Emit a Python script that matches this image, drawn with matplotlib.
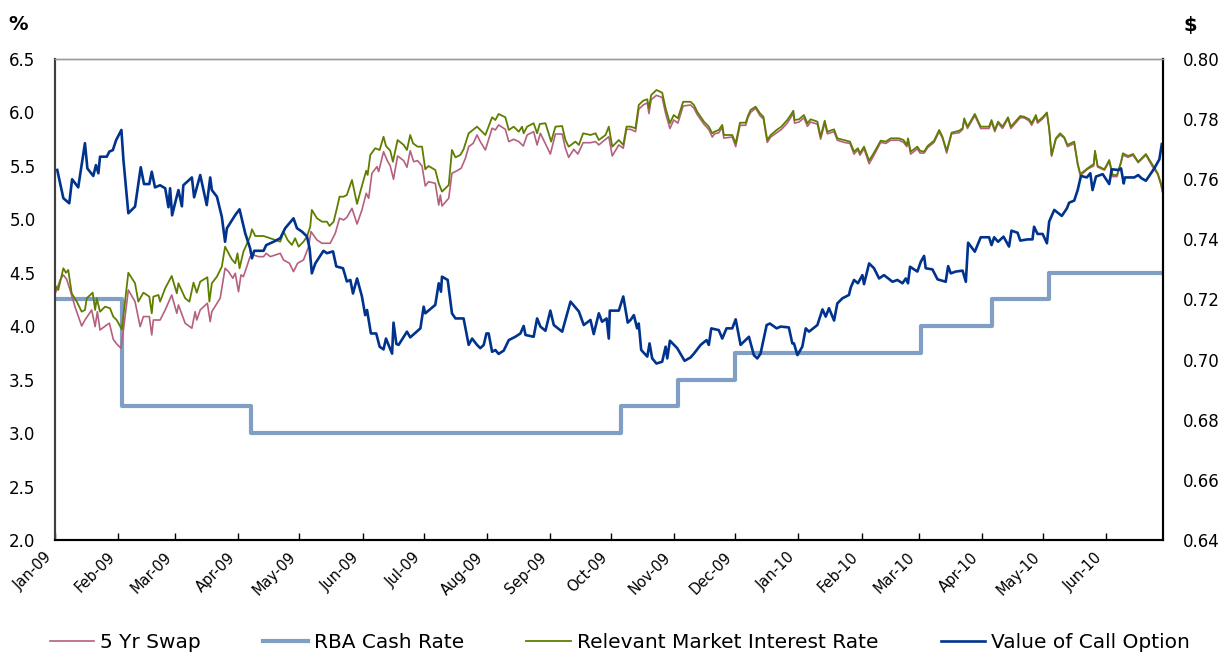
import matplotlib
matplotlib.use('Agg')
import matplotlib.pyplot as plt
import matplotlib.dates as mdates
from matplotlib.ticker import FormatStrFormatter
from matplotlib.transforms import ScaledTranslation
import numpy as np
import pandas as pd

# day offsets are counted from 1 Jan 2009
start = pd.Timestamp('2009-01-01')

# RBA cash rate: decision dates and new rate (%)
rba_dates = ['2009-01-01', '2009-02-03', '2009-04-07', '2009-10-06', '2009-11-03',
             '2009-12-01', '2010-03-02', '2010-04-06', '2010-05-04', '2010-06-29']
rba_vals = [4.25, 3.25, 3.00, 3.25, 3.50, 3.75, 4.00, 4.25, 4.50, 4.50]

# 5 Yr Swap (%), (day, value)
swap = [
    (0.5, 4.323), (2.5, 4.433), (4.1, 4.48), (5.7, 4.44), (7.4, 4.339), (9.8, 4.183), (13.1, 4.002), (14.7, 4.058), (18.0, 4.152), (19.7, 3.996),
    (20.8, 4.136), (22.1, 3.965), (25.4, 4.012), (26.7, 4.028), (28.6, 3.878), (30.3, 3.834), (32.4, 3.794), (33.9, 4.012), (36.0, 4.339), (39.3, 4.23),
    (41.8, 3.996), (43.4, 4.09), (46.3, 4.09), (47.5, 3.918), (48.3, 4.058), (51.6, 4.058), (54.1, 4.152), (57.3, 4.292), (59.8, 4.121), (60.6, 4.199),
    (63.9, 4.028), (67.2, 3.981), (68.8, 4.136), (69.6, 4.058), (71.3, 4.152), (74.8, 4.215), (76.2, 4.043), (77.0, 4.136), (81.1, 4.262), (83.5, 4.542),
    (85.2, 4.511), (87.3, 4.449), (88.5, 4.495), (90.1, 4.323), (91.3, 4.48), (92.5, 4.464), (95.8, 4.651), (97.4, 4.667), (99.9, 4.651), (102.4, 4.651),
    (103.7, 4.682), (105.7, 4.651), (110.6, 4.682), (112.2, 4.62), (115.1, 4.589), (117.1, 4.511), (119.1, 4.589), (122.0, 4.62), (124.5, 4.744), (125.7, 4.885),
    (128.6, 4.807), (131.1, 4.776), (135.1, 4.776), (137.6, 4.869), (139.7, 5.01), (141.7, 4.994), (143.3, 5.019), (145.8, 5.103), (148.3, 4.956), (150.7, 5.088),
    (152.8, 5.244), (154.0, 5.197), (155.6, 5.431), (158.1, 5.493), (158.9, 5.446), (161.3, 5.633), (163.0, 5.555), (164.6, 5.499), (166.2, 5.375), (168.2, 5.593),
    (171.2, 5.549), (172.8, 5.487), (174.4, 5.642), (176.1, 5.539), (178.0, 5.549), (180.2, 5.499), (181.8, 5.312), (183.4, 5.352), (186.7, 5.337), (188.4, 5.134),
    (189.2, 5.228), (190.0, 5.125), (193.3, 5.197), (194.9, 5.431), (197.4, 5.455), (199.4, 5.478), (201.5, 5.571), (203.1, 5.68), (205.3, 5.711), (207.2, 5.789),
    (208.8, 5.727), (211.3, 5.649), (214.6, 5.852), (216.2, 5.836), (217.8, 5.883), (221.1, 5.842), (222.8, 5.727), (225.2, 5.749), (227.7, 5.727), (229.9, 5.686),
    (231.8, 5.789), (235.0, 5.82), (236.7, 5.696), (238.3, 5.805), (243.2, 5.611), (245.7, 5.798), (249.0, 5.798), (250.6, 5.665), (252.2, 5.58), (254.7, 5.655),
    (256.7, 5.611), (259.3, 5.717), (262.9, 5.717), (265.4, 5.727), (267.0, 5.696), (270.3, 5.749), (271.9, 5.773), (273.6, 5.593), (276.8, 5.696), (279.0, 5.665),
    (280.6, 5.842), (282.6, 5.842), (285.0, 5.82), (286.6, 6.03), (288.8, 6.07), (290.8, 6.09), (291.6, 5.99), (292.7, 6.12), (295.3, 6.16), (298.1, 6.14),
    (299.8, 5.99), (301.9, 5.85), (303.8, 5.93), (305.8, 5.90), (308.4, 6.06), (312.0, 6.07), (313.7, 6.04), (315.3, 5.98), (318.6, 5.89), (321.0, 5.84),
    (322.7, 5.77), (323.8, 5.80), (325.9, 5.81), (327.6, 5.86), (328.4, 5.76), (332.5, 5.77), (334.2, 5.68), (336.3, 5.88), (339.1, 5.88), (340.2, 5.95),
    (341.5, 6.00), (344.0, 6.04), (346.1, 5.97), (347.8, 5.94), (349.7, 5.72), (351.4, 5.77), (354.3, 5.81), (356.6, 5.84), (359.5, 5.90), (361.2, 5.95),
    (362.5, 5.99), (363.1, 5.90), (365.3, 5.91), (367.7, 5.95), (369.4, 5.87), (371.0, 5.91), (374.3, 5.89), (375.9, 5.75), (377.9, 5.90), (379.2, 5.80),
    (382.5, 5.82), (384.1, 5.74), (387.4, 5.72), (390.3, 5.71), (392.3, 5.61), (394.2, 5.65), (395.2, 5.60), (397.2, 5.66), (399.7, 5.52), (402.1, 5.60),
    (405.4, 5.72), (407.9, 5.71), (410.3, 5.74), (414.4, 5.74), (416.6, 5.72), (418.2, 5.68), (418.8, 5.74), (420.1, 5.61), (423.4, 5.66), (424.7, 5.62),
    (426.7, 5.62), (428.4, 5.67), (431.6, 5.72), (434.1, 5.82), (435.7, 5.76), (437.8, 5.62), (440.2, 5.80), (443.9, 5.81), (445.6, 5.84), (446.4, 5.93),
    (448.0, 5.85), (451.6, 5.97), (454.5, 5.85), (458.6, 5.85), (459.8, 5.91), (461.4, 5.82), (463.0, 5.90), (465.2, 5.85), (467.9, 5.94), (469.3, 5.85),
    (473.9, 5.95), (475.8, 5.95), (478.3, 5.92), (479.5, 5.88), (481.6, 5.96), (482.4, 5.90), (484.9, 5.94), (487.0, 5.99), (488.1, 5.84), (489.3, 5.59),
    (491.4, 5.75), (493.5, 5.79), (495.5, 5.76), (497.1, 5.68), (500.4, 5.71), (502.1, 5.51), (503.4, 5.41), (507.0, 5.47), (510.0, 5.50), (510.6, 5.63),
    (511.9, 5.49), (515.2, 5.46), (517.6, 5.54), (519.3, 5.40), (521.4, 5.40), (523.4, 5.53), (524.3, 5.60), (526.8, 5.58), (529.3, 5.60), (531.8, 5.53),
    (535.6, 5.60), (538.9, 5.49), (541.4, 5.42), (543.0, 5.32), (544.3, 5.21),
]

# Relevant Market Interest Rate (%), (day, value)
market = [
    (0.5, 4.37), (1.6, 4.339), (4.1, 4.542), (5.4, 4.50), (6.5, 4.526), (8.2, 4.308), (10.7, 4.23), (13.1, 4.136), (14.7, 4.152), (15.6, 4.262),
    (18.5, 4.314), (19.7, 4.152), (20.5, 4.262), (22.1, 4.136), (24.6, 4.183), (27.0, 4.168), (28.6, 4.09), (30.3, 4.058), (32.8, 3.971), (33.9, 4.152),
    (36.0, 4.50), (39.3, 4.402), (40.9, 4.23), (43.4, 4.314), (46.3, 4.277), (47.5, 4.121), (48.3, 4.277), (50.8, 4.292), (51.6, 4.23), (54.1, 4.355),
    (57.3, 4.47), (59.8, 4.308), (60.6, 4.402), (63.9, 4.262), (66.0, 4.23), (68.0, 4.408), (69.6, 4.314), (71.3, 4.417), (74.8, 4.458), (75.8, 4.23),
    (77.0, 4.402), (79.5, 4.464), (81.9, 4.557), (83.5, 4.744), (86.8, 4.626), (88.5, 4.589), (89.6, 4.682), (90.6, 4.542), (92.5, 4.698), (95.8, 4.838),
    (96.7, 4.907), (98.3, 4.844), (102.4, 4.844), (105.7, 4.823), (110.6, 4.791), (112.2, 4.885), (114.2, 4.807), (116.3, 4.76), (117.9, 4.823), (119.6, 4.744),
    (122.0, 4.791), (123.7, 4.838), (125.3, 4.931), (126.1, 5.088), (128.6, 5.01), (131.1, 4.978), (133.5, 4.978), (134.8, 4.938), (136.8, 4.978), (138.4, 5.103),
    (139.7, 5.212), (141.7, 5.212), (143.3, 5.228), (145.8, 5.368), (148.3, 5.144), (149.9, 5.259), (152.8, 5.455), (153.5, 5.415), (154.8, 5.602), (157.2, 5.665),
    (159.4, 5.649), (161.3, 5.773), (162.5, 5.686), (164.6, 5.642), (165.9, 5.539), (168.2, 5.742), (171.2, 5.696), (172.8, 5.649), (174.4, 5.789), (175.8, 5.711),
    (178.0, 5.68), (180.2, 5.68), (181.8, 5.468), (183.4, 5.499), (186.7, 5.462), (188.4, 5.337), (190.0, 5.259), (193.3, 5.321), (194.9, 5.649), (196.6, 5.58),
    (199.0, 5.602), (200.6, 5.655), (203.1, 5.805), (207.2, 5.867), (209.7, 5.82), (211.3, 5.789), (214.6, 5.955), (216.2, 5.929), (217.8, 5.986), (221.1, 5.955),
    (222.8, 5.836), (225.2, 5.867), (227.7, 5.82), (229.3, 5.867), (230.1, 5.805), (231.8, 5.867), (235.0, 5.899), (236.7, 5.805), (238.0, 5.892), (240.8, 5.899),
    (243.6, 5.727), (245.7, 5.867), (249.0, 5.873), (250.6, 5.742), (252.2, 5.68), (255.5, 5.727), (257.2, 5.696), (259.3, 5.805), (262.9, 5.789), (265.4, 5.805),
    (267.0, 5.742), (270.3, 5.789), (271.9, 5.867), (273.6, 5.68), (276.8, 5.742), (279.0, 5.696), (280.6, 5.867), (282.6, 5.867), (285.0, 5.852), (286.6, 6.07),
    (288.8, 6.11), (290.8, 6.123), (291.6, 6.039), (292.7, 6.163), (295.3, 6.21), (298.1, 6.185), (299.8, 6.039), (301.9, 5.899), (303.8, 5.976), (305.8, 5.945),
    (308.4, 6.10), (312.0, 6.10), (313.7, 6.07), (315.3, 6.007), (318.6, 5.914), (321.0, 5.867), (322.7, 5.805), (323.8, 5.82), (325.9, 5.836), (327.6, 5.883),
    (328.4, 5.789), (332.5, 5.789), (334.2, 5.711), (336.3, 5.904), (339.1, 5.904), (340.2, 5.967), (341.5, 6.023), (344.0, 6.054), (346.1, 5.992), (347.8, 5.96),
    (349.7, 5.742), (351.4, 5.789), (354.3, 5.836), (356.6, 5.867), (359.5, 5.929), (361.2, 5.976), (362.5, 6.016), (363.1, 5.929), (365.3, 5.936), (367.7, 5.976),
    (369.4, 5.899), (371.0, 5.936), (374.3, 5.914), (375.9, 5.773), (377.9, 5.923), (379.2, 5.82), (382.5, 5.842), (384.1, 5.758), (387.4, 5.742), (390.3, 5.727),
    (392.3, 5.633), (394.2, 5.665), (395.2, 5.618), (397.2, 5.68), (399.7, 5.549), (402.1, 5.624), (405.4, 5.736), (407.9, 5.727), (410.3, 5.758), (414.4, 5.758),
    (416.6, 5.742), (418.2, 5.696), (418.8, 5.758), (420.1, 5.633), (423.4, 5.68), (424.7, 5.642), (426.7, 5.633), (428.4, 5.686), (431.6, 5.736), (434.1, 5.836),
    (435.7, 5.773), (437.8, 5.642), (440.2, 5.811), (443.9, 5.829), (445.6, 5.852), (446.4, 5.945), (448.0, 5.867), (451.6, 5.986), (454.5, 5.867), (458.6, 5.867),
    (459.8, 5.929), (461.4, 5.836), (463.0, 5.914), (465.2, 5.867), (467.9, 5.955), (469.3, 5.867), (473.9, 5.967), (475.8, 5.96), (478.3, 5.936), (479.5, 5.899),
    (481.6, 5.976), (482.4, 5.914), (484.9, 5.955), (487.0, 6.0), (488.1, 5.852), (489.3, 5.602), (491.4, 5.758), (493.5, 5.805), (495.5, 5.768), (497.1, 5.696),
    (500.4, 5.727), (502.1, 5.524), (503.4, 5.424), (507.0, 5.478), (510.0, 5.518), (510.6, 5.642), (511.9, 5.499), (515.2, 5.468), (517.6, 5.555), (519.3, 5.415),
    (521.4, 5.415), (523.4, 5.539), (524.3, 5.618), (526.8, 5.593), (529.3, 5.611), (531.8, 5.539), (535.6, 5.611), (538.9, 5.508), (541.4, 5.431), (543.0, 5.337),
    (544.3, 5.218),
]

# Value of Call Option ($), (day, value)
call_option = [
    (1.1, 0.7631), (4.1, 0.7537), (7.0, 0.752), (8.4, 0.760), (11.4, 0.7573), (14.7, 0.772), (15.9, 0.7636), (18.8, 0.7611), (20.1, 0.7647), (21.3, 0.762),
    (22.1, 0.7675), (25.4, 0.7675), (26.7, 0.7692), (28.4, 0.7697), (30.0, 0.773), (32.6, 0.7764), (33.6, 0.7664), (36.0, 0.7487), (39.3, 0.7509), (42.1, 0.764),
    (43.7, 0.7584), (46.3, 0.7584), (47.5, 0.7625), (49.1, 0.7573), (51.6, 0.758), (54.1, 0.757), (55.7, 0.7507), (56.5, 0.757), (57.5, 0.748), (59.0, 0.7522),
    (60.6, 0.7564), (62.3, 0.751), (63.0, 0.758), (67.2, 0.7606), (68.3, 0.754), (71.3, 0.7614), (74.5, 0.7514), (76.2, 0.7606), (77.0, 0.7564), (79.5, 0.7542),
    (81.9, 0.7475), (83.5, 0.7392), (84.4, 0.7437), (88.5, 0.7481), (90.6, 0.75), (93.4, 0.742), (95.8, 0.737), (96.7, 0.7337), (97.8, 0.7362), (102.4, 0.7362),
    (103.7, 0.7381), (107.3, 0.7392), (110.6, 0.7404), (113.0, 0.7437), (117.1, 0.747), (118.8, 0.7437), (121.2, 0.7426), (123.7, 0.741), (125.0, 0.737), (126.1, 0.7287),
    (127.8, 0.732), (131.8, 0.7362), (133.5, 0.7354), (136.5, 0.736), (138.1, 0.731), (141.4, 0.7304), (143.3, 0.726), (145.0, 0.7265), (146.3, 0.722), (148.3, 0.727),
    (150.7, 0.721), (152.3, 0.7148), (153.2, 0.7165), (155.1, 0.7087), (157.7, 0.7087), (159.4, 0.7043), (161.3, 0.7034), (162.5, 0.707), (165.5, 0.702), (166.2, 0.7123),
    (167.6, 0.7052), (168.7, 0.7049), (172.8, 0.7093), (174.4, 0.7074), (179.4, 0.7104), (181.0, 0.7176), (181.8, 0.7154), (186.7, 0.7182), (188.4, 0.7254), (189.5, 0.7226),
    (190.0, 0.7276), (192.8, 0.7265), (194.9, 0.7154), (196.6, 0.7137), (200.6, 0.7137), (203.1, 0.7049), (204.8, 0.707), (207.2, 0.7049), (208.8, 0.7038), (210.5, 0.7049),
    (211.8, 0.7087), (212.9, 0.7087), (214.6, 0.7026), (216.2, 0.7032), (217.8, 0.7019), (220.3, 0.703), (222.8, 0.7065), (226.0, 0.7076), (228.5, 0.7087), (230.1, 0.7112),
    (231.0, 0.7082), (235.0, 0.7076), (236.7, 0.7137), (238.3, 0.711), (240.8, 0.7096), (243.2, 0.7163), (244.9, 0.7115), (249.0, 0.7093), (253.1, 0.7193), (257.2, 0.716),
    (259.6, 0.7115), (262.9, 0.7132), (264.5, 0.7085), (267.0, 0.7154), (268.6, 0.7126), (270.8, 0.7137), (271.9, 0.707), (272.4, 0.7163), (276.8, 0.7163), (279.0, 0.721),
    (281.2, 0.7123), (282.6, 0.7132), (284.2, 0.7148), (285.8, 0.7104), (286.6, 0.712), (287.8, 0.7032), (290.8, 0.701), (291.9, 0.7054), (293.2, 0.7004), (295.3, 0.6987),
    (298.1, 0.6993), (299.8, 0.7043), (300.6, 0.7004), (301.9, 0.7063), (305.5, 0.7038), (309.1, 0.6996), (312.0, 0.7007), (313.7, 0.702), (317.0, 0.7049), (319.9, 0.7065),
    (321.0, 0.7049), (322.2, 0.7104), (325.9, 0.7098), (327.6, 0.707), (329.7, 0.7104), (332.5, 0.7104), (334.2, 0.7134), (336.6, 0.7049), (340.7, 0.7076), (343.1, 0.7015),
    (344.8, 0.7004), (346.4, 0.702), (349.4, 0.7115), (351.0, 0.712), (354.3, 0.7104), (356.3, 0.711), (360.3, 0.7107), (362.0, 0.7054), (362.8, 0.7054), (364.5, 0.7015),
    (366.9, 0.7043), (368.6, 0.7104), (370.2, 0.7093), (374.3, 0.7115), (376.8, 0.7167), (378.4, 0.7143), (380.0, 0.7171), (382.5, 0.713), (384.1, 0.7187), (386.6, 0.7204),
    (389.8, 0.7215), (390.7, 0.724), (392.3, 0.7265), (394.2, 0.7254), (396.4, 0.7281), (397.2, 0.7251), (399.7, 0.732), (402.1, 0.7304), (404.6, 0.727), (407.0, 0.7281),
    (411.2, 0.7259), (413.6, 0.7265), (416.1, 0.7254), (417.7, 0.727), (418.8, 0.7254), (419.8, 0.7309), (423.4, 0.7293), (425.1, 0.7326), (426.7, 0.7345), (427.5, 0.7304),
    (430.8, 0.73), (433.3, 0.7267), (437.3, 0.7259), (438.5, 0.7311), (439.8, 0.7287), (442.3, 0.7293), (445.6, 0.7296), (447.2, 0.7259), (448.3, 0.7389), (451.6, 0.7359),
    (454.5, 0.7407), (458.6, 0.7407), (459.8, 0.7381), (461.1, 0.7407), (463.0, 0.7392), (465.7, 0.7409), (468.4, 0.7376), (469.6, 0.7429), (472.6, 0.7422), (473.9, 0.7396),
    (477.5, 0.74), (479.9, 0.74), (480.7, 0.7442), (482.4, 0.7418), (484.9, 0.7418), (487.0, 0.7387), (488.1, 0.7459), (490.6, 0.7498), (494.3, 0.7478), (496.8, 0.7503),
    (497.9, 0.7522), (500.4, 0.7529), (502.1, 0.7564), (503.7, 0.7611), (506.6, 0.7606), (508.3, 0.762), (509.4, 0.7564), (511.1, 0.7609), (514.4, 0.7617), (517.6, 0.7584),
    (518.8, 0.7633), (522.1, 0.7631), (523.4, 0.7636), (524.7, 0.7586), (525.3, 0.7606), (529.9, 0.7606), (531.8, 0.7614), (533.5, 0.7603), (535.6, 0.7595), (539.7, 0.7636),
    (542.2, 0.7666), (543.4, 0.7717),
]


def split(points):
    days = [p[0] for p in points]
    vals = [p[1] for p in points]
    return start + pd.to_timedelta(days, unit='D'), vals


swap_x, swap_y = split(swap)
market_x, market_y = split(market)
call_x, call_y = split(call_option)

fig, ax = plt.subplots(figsize=(12.25, 6.52), dpi=100)
fig.subplots_adjust(left=0.0449, right=0.9494, top=0.9095, bottom=0.1718)

l_rba, = ax.plot(pd.to_datetime(rba_dates), rba_vals, drawstyle='steps-post',
                 color='#819FC5', lw=3.0, label='RBA Cash Rate')
l_swap, = ax.plot(swap_x, swap_y, color='#B5607E', lw=1.2, label='5 Yr Swap')
l_mkt, = ax.plot(market_x, market_y, color='#5F7E00', lw=1.3,
                 label='Relevant Market Interest Rate')

ax2 = ax.twinx()
l_call, = ax2.plot(call_x, call_y, color='#00338D', lw=1.9, label='Value of Call Option')

ax.set_ylim(2.0, 6.5)
ax.set_yticks(np.arange(2.0, 6.51, 0.5))
ax.yaxis.set_major_formatter(FormatStrFormatter('%.1f'))
ax2.set_ylim(0.64, 0.80)
ax2.set_yticks(np.arange(0.64, 0.8001, 0.02))
ax2.yaxis.set_major_formatter(FormatStrFormatter('%.2f'))

ax.set_xlim(start, start + pd.Timedelta(days=544))
ax.xaxis.set_major_locator(mdates.MonthLocator())
ax.xaxis.set_major_formatter(mdates.DateFormatter('%b-%y'))
ax.tick_params(axis='x', direction='in', length=5, width=1, labelsize=10.5, pad=7)
shift = ScaledTranslation(-8 / 72, 0, fig.dpi_scale_trans)
for lab in ax.get_xticklabels():
    lab.set_rotation(45)
    lab.set_ha('right')
    lab.set_rotation_mode('anchor')
    lab.set_transform(lab.get_transform() + shift)

ax.tick_params(axis='y', length=0, pad=14, labelsize=12)
ax2.tick_params(axis='y', length=0, pad=14, labelsize=12)

for a in (ax, ax2):
    a.spines['top'].set_color('#9A9A9A')
    a.spines['top'].set_linewidth(1.0)
    a.spines['left'].set_color('#404040')
    a.spines['left'].set_linewidth(1.5)
    a.spines['bottom'].set_color('black')
    a.spines['bottom'].set_linewidth(1.5)
    a.spines['right'].set_color('black')
    a.spines['right'].set_linewidth(1.5)

fig.text(18 / 1225, 1 - 25 / 652, '%', fontsize=14, fontweight='bold', ha='center', va='center')
fig.text(1190 / 1225, 1 - 25 / 652, '$', fontsize=14, fontweight='bold', ha='center', va='center')

fig.legend([l_swap, l_rba, l_mkt, l_call],
           ['5 Yr Swap', 'RBA Cash Rate', 'Relevant Market Interest Rate', 'Value of Call Option'],
           loc='lower center', bbox_to_anchor=(0.506, -0.028), ncol=4, frameon=False,
           fontsize=14.5, handlelength=2.2, handletextpad=0.3, columnspacing=3.1)

fig.savefig('out.png', dpi=100)
